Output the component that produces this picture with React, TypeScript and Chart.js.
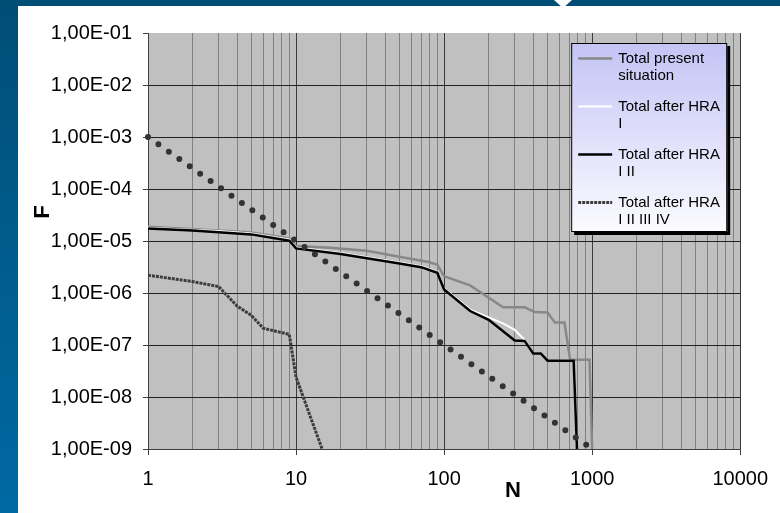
import React, { useEffect, useRef } from 'react';
import { Chart, registerables } from 'chart.js';

Chart.register(...registerables);

// ---- data ----
const N_PRESENT = [1, 3, 5, 9, 10, 17, 30, 50, 80, 90, 100, 140, 150, 250, 350, 410, 500, 560, 650, 710, 960, 1000];
const F_PRESENT = [1.87e-5, 1.6e-5, 1.45e-5, 1.12e-5, 8.0e-6, 7.4e-6, 6.5e-6, 5.0e-6, 3.9e-6, 3.5e-6, 2.1e-6, 1.5e-6, 1.4e-6, 5.3e-7, 5.3e-7, 4.3e-7, 4.2e-7, 2.7e-7, 2.7e-7, 5.2e-8, 5.2e-8, 1e-9];

const N_HRA1 = [1, 3, 5, 9, 10, 20, 50, 70, 90, 100, 150, 200, 250, 300, 350, 400, 450, 500, 750, 790];
const F_HRA1 = [1.8e-5, 1.55e-5, 1.4e-5, 1.07e-5, 7.5e-6, 5.85e-6, 3.85e-6, 3.28e-6, 2.55e-6, 1.22e-6, 4.8e-7, 3.4e-7, 2.6e-7, 1.95e-7, 1.26e-7, 7.0e-8, 7.0e-8, 5.0e-8, 5.0e-8, 1e-9];

const N_HRA12 = [1, 2, 3, 5, 7, 9, 10, 20, 50, 70, 90, 100, 150, 200, 300, 350, 400, 450, 500, 750, 790];
const F_HRA12 = [1.73e-5, 1.6e-5, 1.48e-5, 1.34e-5, 1.14e-5, 1.02e-5, 7.2e-6, 5.6e-6, 3.7e-6, 3.14e-6, 2.45e-6, 1.17e-6, 4.5e-7, 3.05e-7, 1.22e-7, 1.2e-7, 6.9e-8, 6.9e-8, 5.0e-8, 5.0e-8, 1e-9];

const N_HRA1234 = [1, 2, 3, 4, 5, 6, 9, 10, 15];
const F_HRA1234 = [2.2e-6, 1.66e-6, 1.33e-6, 5.6e-7, 3.7e-7, 2.1e-7, 1.6e-7, 2.4e-8, 1e-9];

const N_CRITERION = [1, 1000];
const F_CRITERION = [1e-3, 1e-9];

const SERIES_LABELS = [
  ['Total present', 'situation'],
  ['Total after HRA', 'I'],
  ['Total after HRA', 'I II'],
  ['Total after HRA', 'I II III IV'],
];

const X_DECADES = [1, 10, 100, 1000, 10000];
const X_TICK_LABELS = ['1', '10', '100', '1000', '10000'];
const X_MINOR_STEPS = [1, 2, 3, 4, 5, 6, 7, 8, 9];
const Y_TICKS = [1e-9, 1e-8, 1e-7, 1e-6, 1e-5, 1e-4, 1e-3, 1e-2, 1e-1];
const Y_TICK_LABELS = ['1,00E-09', '1,00E-08', '1,00E-07', '1,00E-06', '1,00E-05', '1,00E-04', '1,00E-03', '1,00E-02', '1,00E-01'];

const FONT = '"Liberation Sans", Arial, sans-serif';

const pts = (xs: number[], ys: number[]) => xs.map((x, i) => ({ x, y: ys[i] }));
const isDecade = (v: number) => X_DECADES.some((d) => Math.abs(d - v) < d * 1e-6);

const bgPlugin = {
  id: 'plotBg',
  beforeDraw(chart: any) {
    const { ctx, chartArea: a } = chart;
    ctx.save();
    ctx.fillStyle = '#c0c0c0';
    ctx.fillRect(a.left, a.top, a.right - a.left, a.bottom - a.top);
    ctx.restore();
  },
};

const overlayPlugin = {
  id: 'overlay',
  afterDraw(chart: any) {
    const { ctx, chartArea: a } = chart;
    ctx.save();
    // axis titles
    ctx.fillStyle = '#000';
    ctx.font = `bold 22px ${FONT}`;
    ctx.textAlign = 'center';
    ctx.textBaseline = 'middle';
    ctx.save();
    ctx.translate(a.left - 105, a.top + 179);
    ctx.rotate(-Math.PI / 2);
    ctx.fillText('F', 0, 0);
    ctx.restore();
    ctx.fillText('N', a.left + 365, a.bottom + 42);

    // legend
    const w = 156, h = 189;
    const lx = a.right - 169, ly = a.top + 10;
    ctx.fillStyle = '#000';
    ctx.fillRect(lx + 3, ly + 3, w, h);
    const g = ctx.createLinearGradient(0, ly, 0, ly + h);
    g.addColorStop(0, '#c4c4f6');
    g.addColorStop(1, '#fbfbff');
    ctx.fillStyle = g;
    ctx.fillRect(lx, ly, w, h);
    ctx.strokeStyle = '#000';
    ctx.lineWidth = 1;
    ctx.strokeRect(lx + 0.5, ly + 0.5, w - 1, h - 1);
    ctx.textAlign = 'left';
    ctx.font = `15px ${FONT}`;
    SERIES_LABELS.forEach((lines, i) => {
      const ds = chart.data.datasets[i];
      const y = Math.round(ly + 15 + i * 48) + 0.5;
      ctx.beginPath();
      ctx.strokeStyle = ds.borderColor;
      ctx.lineWidth = ds.borderWidth;
      ctx.setLineDash(ds.borderDash || []);
      ctx.moveTo(lx + 7, y);
      ctx.lineTo(lx + 41, y);
      ctx.stroke();
      ctx.setLineDash([]);
      ctx.fillStyle = '#000';
      lines.forEach((t, j) => ctx.fillText(t, lx + 47, y + j * 17));
    });
    ctx.restore();
  },
};

export default function App() {
  const ref = useRef<HTMLCanvasElement | null>(null);

  useEffect(() => {
    document.body.style.margin = '0';
    const canvas = ref.current;
    if (!canvas) return;
    const chart = new Chart(canvas, {
      type: 'line',
      data: {
        datasets: [
          {
            label: SERIES_LABELS[0].join(' '),
            data: pts(N_PRESENT, F_PRESENT),
            borderColor: '#888888',
            borderWidth: 2.5,
            order: 4,
          },
          {
            label: SERIES_LABELS[1].join(' '),
            data: pts(N_HRA1, F_HRA1),
            borderColor: '#ffffff',
            borderWidth: 2,
            order: 3,
          },
          {
            label: SERIES_LABELS[2].join(' '),
            data: pts(N_HRA12, F_HRA12),
            borderColor: '#000000',
            borderWidth: 2.5,
            order: 2,
          },
          {
            label: SERIES_LABELS[3].join(' '),
            data: pts(N_HRA1234, F_HRA1234),
            borderColor: '#3c3c3c',
            borderWidth: 3,
            borderDash: [3, 1],
            order: 1,
          },
          {
            label: 'Criterion',
            data: pts(N_CRITERION, F_CRITERION),
            borderColor: '#333333',
            borderWidth: 6,
            borderDash: [0, 12.75],
            borderCapStyle: 'round',
            clip: false,
            order: 0,
          },
        ] as any,
      },
      options: {
        animation: false,
        responsive: false,
        devicePixelRatio: 1,
        layout: { padding: { top: 27, right: 37, left: 0, bottom: 0 } },
        elements: { point: { radius: 0, hoverRadius: 0 }, line: { tension: 0 } },
        plugins: { legend: { display: false }, tooltip: { enabled: false }, title: { display: false } },
        scales: {
          x: {
            type: 'logarithmic',
            min: 1,
            max: 10000,
            afterBuildTicks: (scale: any) => {
              const t: any[] = [];
              X_DECADES.forEach((d, i) => {
                if (i === X_DECADES.length - 1) t.push({ value: d });
                else X_MINOR_STEPS.forEach((s) => t.push({ value: d * s }));
              });
              scale.ticks = t;
            },
            afterFit: (scale: any) => {
              scale.height = 64;
            },
            ticks: {
              autoSkip: false,
              maxRotation: 0,
              padding: 12,
              color: '#000',
              font: { family: FONT, size: 20 },
              callback: (v: any) => {
                const i = X_DECADES.findIndex((d) => Math.abs(d - Number(v)) < d * 1e-6);
                return i >= 0 ? X_TICK_LABELS[i] : '';
              },
            },
            grid: {
              color: (c: any) => (c.tick && isDecade(c.tick.value) ? '#3a3a3a' : '#808080'),
              tickColor: (c: any) => (c.tick && isDecade(c.tick.value) ? '#404040' : 'rgba(0,0,0,0)'),
              tickLength: 6,
              lineWidth: 1,
            },
            border: { display: true, color: '#404040', width: 1 },
          },
          y: {
            type: 'logarithmic',
            min: 1e-9,
            max: 1e-1,
            afterBuildTicks: (scale: any) => {
              scale.ticks = Y_TICKS.map((v) => ({ value: v }));
            },
            afterFit: (scale: any) => {
              scale.width = 130;
            },
            ticks: {
              autoSkip: false,
              padding: 11,
              color: '#000',
              font: { family: FONT, size: 20 },
              callback: (v: any) => {
                const i = Y_TICKS.findIndex((d) => Math.abs(d - Number(v)) < d * 1e-6);
                return i >= 0 ? Y_TICK_LABELS[i] : '';
              },
            },
            grid: {
              color: (c: any) => (c.tick && Math.abs(c.tick.value - 0.1) < 1e-6 ? 'rgba(0,0,0,0)' : '#202020'),
              tickColor: '#404040',
              tickLength: 5,
              lineWidth: 1,
            },
            border: { display: true, color: '#404040', width: 1 },
          },
        },
      },
      plugins: [bgPlugin, overlayPlugin],
    });
    return () => chart.destroy();
  }, []);

  return (
    <div
      style={{
        position: 'relative',
        width: 780,
        height: 513,
        overflow: 'hidden',
        background: 'linear-gradient(to bottom, #004e76, #0069a3)',
      }}
    >
      <div
        style={{
          position: 'absolute',
          left: 554,
          top: 0,
          width: 0,
          height: 0,
          borderLeft: '9px solid transparent',
          borderRight: '9px solid transparent',
          borderTop: '8px solid #ffffff',
        }}
      />
      <div style={{ position: 'absolute', left: 18, top: 6, width: 762, height: 507, background: '#ffffff' }}>
        <canvas ref={ref} width={762} height={507} style={{ display: 'block', width: 762, height: 507 }} />
      </div>
    </div>
  );
}
